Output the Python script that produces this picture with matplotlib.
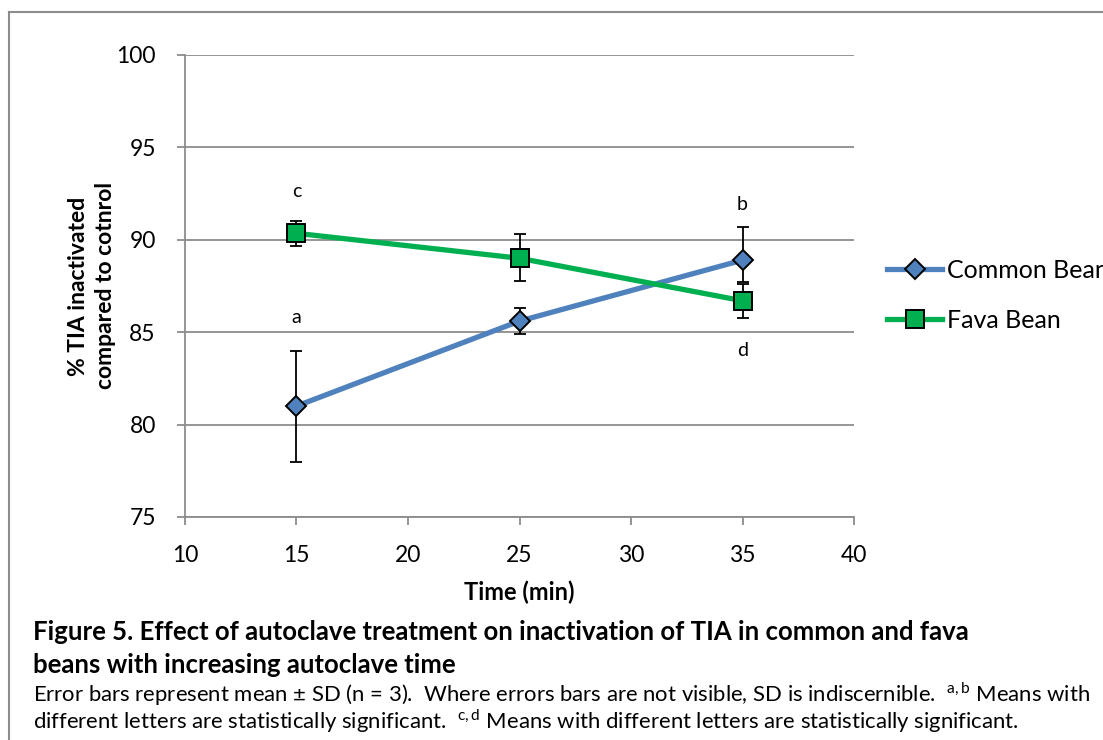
import matplotlib

matplotlib.use("Agg")
import matplotlib.pyplot as plt
from matplotlib.lines import Line2D

plt.rcParams["font.family"] = ["Lato", "DejaVu Sans"]
plt.rcParams["mathtext.fontset"] = "custom"
plt.rcParams["mathtext.rm"] = "Lato"

# data
time_min = [15, 25, 35]
common_bean = [81.0, 85.6, 88.9]
common_err_low = [3.0, 0.7, 1.2]
common_err_high = [3.0, 0.7, 1.8]
fava_bean = [90.35, 89.0, 86.7]
fava_err_low = [0.7, 1.25, 0.95]
fava_err_high = [0.65, 1.3, 0.9]
letters = ["a", "b", "c", "d"]
letter_x = [15, 35, 15, 35]
letter_y = [85.8, 91.9, 92.6, 84.0]

GRAY = "#8c8c8c"
BLUE = "#4f81bd"
GREEN = "#00b050"

fig = plt.figure(figsize=(11.03, 7.40), dpi=100)
ax = fig.add_axes([0.1677, 0.3014, 0.6066, 0.6243])

ax.errorbar(time_min, common_bean, yerr=[common_err_low, common_err_high], fmt="none",
            ecolor="black", elinewidth=1.3, capsize=4.5, capthick=1.3, zorder=2)
ax.errorbar(time_min, fava_bean, yerr=[fava_err_low, fava_err_high], fmt="none",
            ecolor="black", elinewidth=1.3, capsize=4.5, capthick=1.3, zorder=2)
ax.plot(time_min, common_bean, color=BLUE, lw=3.8, marker="D", markersize=10.5,
        markerfacecolor=BLUE, markeredgecolor="black", markeredgewidth=1.4, zorder=3,
        label="Common Bean")
ax.plot(time_min, fava_bean, color=GREEN, lw=3.8, marker="s", markersize=13.5,
        markerfacecolor=GREEN, markeredgecolor="black", markeredgewidth=1.4, zorder=3,
        label="Fava Bean")

for letter, lx, ly in zip(letters, letter_x, letter_y):
    ax.text(lx, ly, letter, ha="center", va="center", fontsize=14)

ax.set_xlim(10, 40)
ax.set_ylim(75, 100)
ax.set_xticks(range(10, 41, 5))
ax.set_yticks(range(75, 101, 5))
ax.tick_params(labelsize=16.5, color=GRAY, length=6, width=1.3)
ax.tick_params(axis="y", pad=15)
ax.tick_params(axis="x", pad=14)
ax.yaxis.grid(True, color=GRAY, lw=1.3)
ax.set_axisbelow(True)
for side in ["top", "right"]:
    ax.spines[side].set_visible(False)
for side in ["left", "bottom"]:
    ax.spines[side].set_color(GRAY)
    ax.spines[side].set_linewidth(1.3)

ax.set_xlabel("Time (min)", fontsize=17, fontweight="bold", labelpad=11)
ax.set_ylabel("% TIA inactivated\ncompared to cotnrol", fontsize=16.5, fontweight="bold",
              labelpad=0, linespacing=1.35)

fig.legend(loc="center left", bbox_to_anchor=(0.784, 0.601), frameon=False,
           fontsize=18, handlelength=2.2, handletextpad=0.2, labelspacing=1.1)

# chart frame, cut off at the right and bottom
fig.add_artist(Line2D([9 / 1103, 1.0], [1 - 12 / 740] * 2, color=GRAY, lw=1.5))
fig.add_artist(Line2D([9 / 1103] * 2, [0.0, 1 - 12 / 740], color=GRAY, lw=1.5))

fig.text(33 / 1103, 1 - 632 / 740,
         "Figure 5. Effect of autoclave treatment on inactivation of TIA in common and fava",
         fontsize=18.5, fontweight="bold", va="center")
fig.text(33 / 1103, 1 - 665 / 740, "beans with increasing autoclave time",
         fontsize=18.5, fontweight="bold", va="center")
fig.text(33 / 1103, 1 - 694 / 740,
         "Error bars represent mean \u00b1 SD (n = 3).  Where errors bars are not visible, "
         "SD is indiscernible.  $^{\\mathrm{a,b}}$ Means with",
         fontsize=15.9, va="center")
fig.text(33 / 1103, 1 - 721 / 740,
         "different letters are statistically significant.  $^{\\mathrm{c,d}}$ Means with "
         "different letters are statistically significant.",
         fontsize=15.9, va="center")

fig.savefig("out.png", dpi=100)
